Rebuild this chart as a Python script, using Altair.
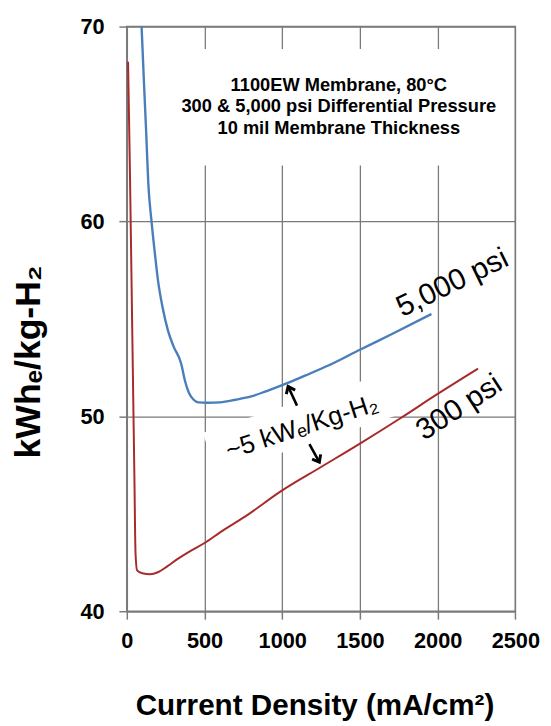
import altair as alt
import pandas as pd

# ---------------- data ----------------
red_x = [8, 20, 35, 49, 56, 66, 100, 150, 200, 260, 330, 400, 500, 600, 750,
         1000, 1250, 1500, 1750, 2000, 2260]
red_y = [68.2, 62.6, 54.4, 46.8, 43.0, 42.1, 41.95, 41.9, 42.0, 42.3, 42.7, 43.05,
         43.5, 44.05, 44.8, 46.2, 47.4, 48.6, 49.85, 51.15, 52.45]

blue_x = [95, 110, 125, 138, 159, 180, 201, 230, 265, 300, 350, 375, 400, 430, 460,
          520, 600, 700, 800, 900, 1000, 1150, 1300, 1500, 1700, 1960]
blue_y = [70, 67.2, 64.5, 62.0, 60.0, 58.4, 56.95, 55.6, 54.4, 53.6, 52.7, 51.8, 51.2,
          50.85, 50.72, 50.7, 50.72, 50.85, 51.02, 51.3, 51.6, 52.1, 52.62, 53.42,
          54.2, 55.25]

x_ticks = [0, 500, 1000, 1500, 2000, 2500]
y_ticks = [40, 50, 60, 70]

info_lines = ["1100EW Membrane, 80°C",
              "300 & 5,000 psi Differential Pressure",
              "10 mil Membrane Thickness"]
info_x = [1364, 1364, 1364]
info_y = [66.99, 65.9, 64.8]
info_box = [250, 2300, 62.87, 68.85]

curve_labels = ["5,000 psi", "300 psi"]
curve_label_x = [2095, 2139]
curve_label_y = [56.84, 50.45]
curve_label_angle = [334, 327]

gap_label = "~5 kWₑ/Kg-H₂"
gap_pos = [1126, 49.44]
gap_band = [532, 48.10, 1676, 51.06]

arrow_tail_x = [1095, 1175]
arrow_tail_y = [50.55, 48.58]
arrow_tip_x = [1038, 1239]
arrow_tip_y = [51.53, 47.65]
arrow_angle = [335, 151]

# ---------------- styling ----------------
F = "Liberation Sans, Arial, DejaVu Sans, sans-serif"
GRID = "#7a7a7a"
BLUE = "#4a7ebb"
RED = "#a82a2a"

xscale = alt.Scale(domain=[0, 2500], nice=False, zero=False)
yscale = alt.Scale(domain=[40, 70], nice=False, zero=False)

xaxis = alt.Axis(values=x_ticks, grid=True, gridColor=GRID, gridWidth=1.3,
                 domainColor=GRID, domainWidth=1.5, tickColor=GRID, tickWidth=1.5,
                 tickSize=8, labelFont=F, labelFontSize=22, labelFontWeight="bold",
                 labelColor="black", labelPadding=12, labelFlush=False,
                 labelOverlap=False, format="d",
                 title="Current Density (mA/cm²)", titleFont=F, titleFontSize=30,
                 titleFontWeight="bold", titleColor="black",
                 titleBaseline="alphabetic", titleAlign="center",
                 titleX=190, titleY=105)
yaxis = alt.Axis(values=y_ticks, grid=True, gridColor=GRID, gridWidth=1.3,
                 domainColor=GRID, domainWidth=1.5, tickColor=GRID, tickWidth=1.5,
                 tickSize=8, labelFont=F, labelFontSize=22, labelFontWeight="bold",
                 labelColor="black", labelPadding=15, labelFlush=False,
                 labelOverlap=False, format="d",
                 title="kWhₑ/kg-H₂", titleFont=F, titleFontSize=36,
                 titleFontWeight="bold", titleColor="black",
                 titleAngle=270, titleBaseline="alphabetic", titleAlign="center",
                 titleX=-88, titleY=339)


def X(field="x"):
    return alt.X(f"{field}:Q", scale=xscale, axis=xaxis)


def Y(field="y"):
    return alt.Y(f"{field}:Q", scale=yscale, axis=yaxis)


red_df = pd.DataFrame({"x": red_x, "y": red_y})
blue_df = pd.DataFrame({"x": blue_x, "y": blue_y})

box = alt.Chart(pd.DataFrame({"x": [info_box[0]], "x2": [info_box[1]],
                              "y": [info_box[2]], "y2": [info_box[3]]})).mark_rect(
    color="white").encode(x=X(), x2="x2:Q", y=Y(), y2="y2:Q")

band = alt.Chart(pd.DataFrame({"x": [gap_band[0]], "y": [gap_band[1]],
                               "x2": [gap_band[2]], "y2": [gap_band[3]]})).mark_rule(
    color="white", strokeWidth=44, strokeCap="butt").encode(
    x=X(), y=Y(), x2="x2:Q", y2="y2:Q")

red = alt.Chart(red_df).mark_line(color=RED, strokeWidth=2, interpolate="monotone").encode(
    x=X(), y=Y())
blue = alt.Chart(blue_df).mark_line(color=BLUE, strokeWidth=2.4, interpolate="monotone").encode(
    x=X(), y=Y())

info = alt.Chart(pd.DataFrame({"x": info_x, "y": info_y, "t": info_lines})).mark_text(
    font=F, fontSize=18.5, fontWeight="bold", color="black",
    align="center", baseline="middle").encode(
    x=X(), y=Y(), text="t:N")

lab_df = pd.DataFrame({"x": curve_label_x, "y": curve_label_y, "t": curve_labels,
                       "a": curve_label_angle})
labels = alt.Chart(lab_df).mark_text(
    font=F, fontSize=30, color="black", align="center", baseline="middle").encode(
    x=X(), y=Y(), text="t:N", angle=alt.Angle("a:Q", scale=None))

gap = alt.Chart(pd.DataFrame({"x": [gap_pos[0]], "y": [gap_pos[1]],
                              "t": [gap_label]})).mark_text(
    font=F, fontSize=26, color="black", align="center", baseline="middle",
    angle=342).encode(x=X(), y=Y(), text="t:N")

arr_df = pd.DataFrame({"x": arrow_tail_x, "y": arrow_tail_y,
                       "x2": arrow_tip_x, "y2": arrow_tip_y, "a": arrow_angle})
shafts = alt.Chart(arr_df).mark_rule(color="black", strokeWidth=2.6).encode(
    x=X(), y=Y(), x2="x2:Q", y2="y2:Q")
heads = alt.Chart(arr_df).mark_point(
    shape="M-0.55,0.7L0,0L0.55,0.7", filled=False, color="black", strokeWidth=3,
    size=320, opacity=1).encode(
    x=X("x2"), y=Y("y2"), angle=alt.Angle("a:Q", scale=None))

chart = alt.layer(box, band, red, blue, info, labels, gap, shafts, heads).properties(
    width=393.4, height=592,
    autosize=alt.AutoSizeParams(type="none"),
    padding={"left": 120.3, "top": 14.3, "right": 28, "bottom": 112},
    background="white",
).configure_view(stroke=GRID, strokeWidth=1.5)

chart.save("out.html", embed_options={"renderer": "svg", "actions": False})
